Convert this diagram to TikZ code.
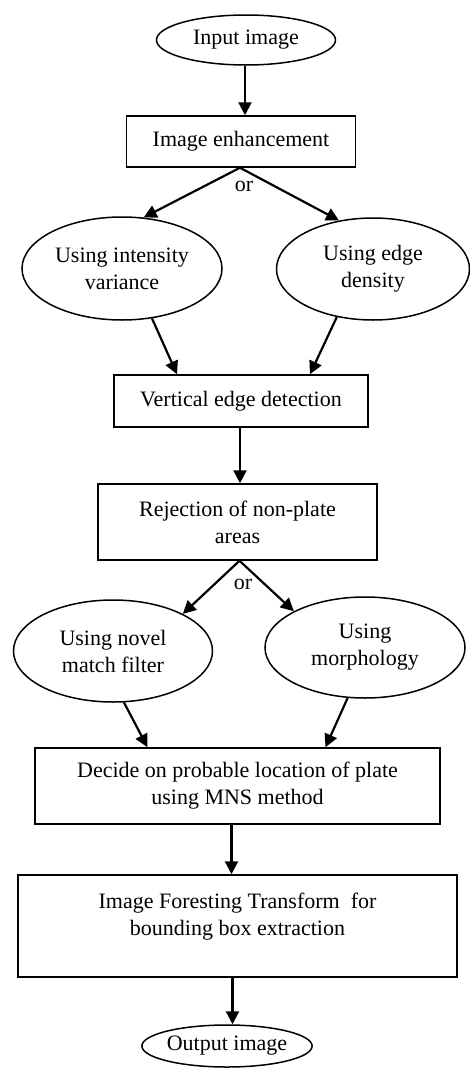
\documentclass[tikz,border=0pt]{standalone}
\usepackage{fontspec}
\setmainfont{Liberation Serif}
\usetikzlibrary{shapes.geometric,arrows.meta}
\begin{document}
\begin{tikzpicture}[x=1pt,y=-1pt,
  every node/.style={font=\fontsize{22}{27}\selectfont, align=center},
  boxn/.style={draw, line width=1.5pt, rectangle, inner sep=0pt},
  ell/.style={draw, line width=1.5pt, ellipse, inner sep=0pt},
  arr/.style={line width=2.2pt, -{Triangle[length=13pt,width=13pt]}},
  ortext/.style={inner sep=0pt}]
\useasboundingbox (0,0) rectangle (470,1068);
\fill[white] (0,0) rectangle (470,1068);

\node[ell, minimum width=179pt, minimum height=50pt] (in) at (246,40) {Input image};
\node[boxn, minimum width=229pt, minimum height=51pt] (enh) at (241,141.5) {Image enhancement};
\node[ortext] (or1) at (244,186) {or};
\node[ell, minimum width=200pt, minimum height=103pt] (iv) at (122,268.5) {Using intensity\\variance};
\node[ell, minimum width=193pt, minimum height=102pt] (ed) at (373,269) {Using edge\\density};
\node[boxn, minimum width=254pt, minimum height=52pt] (ved) at (241,401) {Vertical edge detection};
\node[boxn, minimum width=279pt, minimum height=76pt] (rej) at (237.5,522) {Rejection of non-plate\\areas};
\node[ortext] (or2) at (243,584) {or};
\node[ell, minimum width=199pt, minimum height=102pt] (nmf) at (113,651) {Using novel\\match filter};
\node[ell, minimum width=200pt, minimum height=101pt] (mor) at (365,647.5) {Using\\morphology};
\node[boxn, minimum width=405pt, minimum height=76pt] (dec) at (237.5,786) {Decide on probable location of plate\\using MNS method};
\node[boxn, minimum width=439pt, minimum height=102pt] (ift) at (237.5,926) {};
\node[inner sep=0pt] (iftt) at (237.5,917) {Image Foresting Transform~ for\\bounding box extraction};
\node[ell, minimum width=170pt, minimum height=42pt] (out) at (227,1046) {Output image};

\draw[arr] ([xshift=-1pt]in.south) -- ([xshift=-1pt]in.south |- enh.north);
\draw[arr] ([xshift=-1pt]enh.south) -- (iv.67);
\draw[arr] ([xshift=-1pt]enh.south) -- (ed.125);
\draw[arr] (iv.-59) -- ([xshift=-64pt]ved.north);
\draw[arr] (ed.233) -- ([xshift=69pt]ved.north);
\draw[arr] ([xshift=-1pt]ved.south) -- ([xshift=-1pt]ved.south |- rej.north);
\draw[arr] ([xshift=2pt]rej.south) -- (nmf.28);
\draw[arr] ([xshift=2pt]rej.south) -- (mor.153);
\draw[arr] (nmf.-78) -- ([xshift=-90pt]dec.north);
\draw[arr] (mor.251) -- ([xshift=88pt]dec.north);
\draw[arr] ([xshift=-6pt]dec.south) -- ([xshift=-6pt]dec.south |- ift.north);
\draw[arr] ([xshift=-5pt]ift.south) -- ([xshift=-5pt]ift.south |- out.north);
\end{tikzpicture}
\end{document}
